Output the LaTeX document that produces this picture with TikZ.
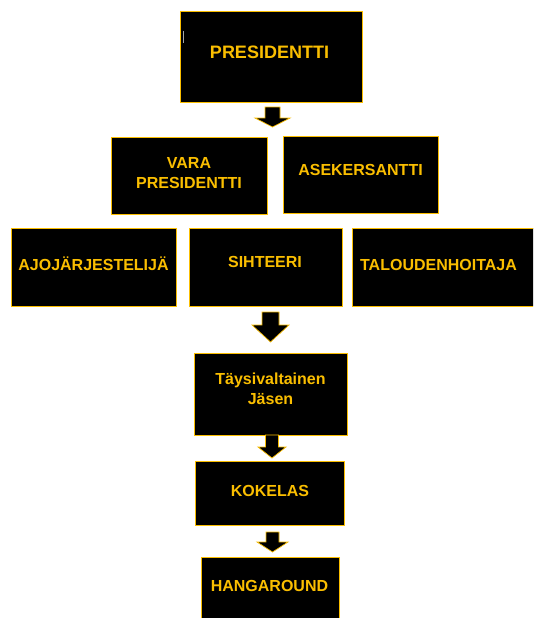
\documentclass[tikz,border=0pt]{standalone}
\usepackage{fontspec}
\setmainfont{Liberation Sans}
\usetikzlibrary{calc}
\definecolor{gold}{RGB}{250,190,0}
\tikzset{
  box/.style={draw=gold, fill=black, line width=0.9pt, inner sep=0pt, outer sep=0pt},
  lbl/.style={text=gold, font=\fontsize{16}{20.5}\selectfont\bfseries, inner sep=0pt, align=center},
  biglbl/.style={lbl, font=\fontsize{18}{22}\selectfont\bfseries},
  barrow/.style={draw=gold, fill=black, line width=0.7pt, line join=miter}
}
\newcommand\blockarrow[5]{%
  \draw[barrow] ($(#1)+(-#3,0)$) -- ($(#1)+(#3,0)$) -- ($(#2)+(#3,-#5)$) -- ($(#2)+(#4,-#5)$)
    -- (#2) -- ($(#2)+(-#4,-#5)$) -- ($(#2)+(-#3,-#5)$) -- cycle;}
\begin{document}
\begin{tikzpicture}[x=1pt,y=-1pt]
\useasboundingbox[fill=white] (0,0) rectangle (533,618);
\begin{scope}
\clip (0,0) rectangle (533,618);
% boxes
\node[box, minimum width=182pt, minimum height=91pt] (pres) at (271,56.5) {};
\node[box, minimum width=156pt, minimum height=77pt] (vara) at (189,175.5) {};
\node[box, minimum width=155pt, minimum height=77pt] (ase) at (360.5,174.5) {};
\node[box, minimum width=165pt, minimum height=78pt] (ajo) at (93.5,267) {};
\node[box, minimum width=153pt, minimum height=78pt] (sih) at (265.5,267) {};
\node[box, minimum width=208pt, minimum height=78pt] (tal) at (456,267) {};
\node[box, minimum width=153pt, minimum height=82pt] (tays) at (270.5,394) {};
\node[box, minimum width=149pt, minimum height=64pt] (kok) at (269.5,493) {};
\node[box, minimum width=138pt, minimum height=83pt] (hang) at (270,598.5) {};
% cursor mark
\draw[gray!70, line width=1pt] (183,31) -- (183,43);
% labels
\node[biglbl, anchor=base] (presT) at (269.5,58.3) {PRESIDENTTI};
\node[lbl, anchor=center] (varaT) at (189,173) {VARA\\PRESIDENTTI};
\node[lbl, anchor=base] (aseT) at (360.5,175.7) {ASEKERSANTTI};
\node[lbl, anchor=base] (ajoT) at (93.5,270.7) {AJOJÄRJESTELIJÄ};
\node[lbl, anchor=base] (sihT) at (265,267.5) {SIHTEERI};
\node[lbl, anchor=base] (talT) at (438.5,270) {TALOUDENHOITAJA};
\node[lbl, anchor=center] (taysT) at (270.5,389) {Täysivaltainen\\Jäsen};
\node[lbl, anchor=base] (kokT) at (270,496) {KOKELAS};
\node[lbl, anchor=base] (hangT) at (269.5,591.7) {HANGAROUND};
% arrows
\coordinate (a1s) at ($(pres.south)+(1.5,5)$);
\coordinate (a1e) at ($(pres.south)+(1.5,25)$);
\coordinate (a2s) at ($(sih.south)+(5,6)$);
\coordinate (a2e) at ($(sih.south)+(5,36)$);
\coordinate (a3s) at ($(tays.south)+(1.5,0)$);
\coordinate (a3e) at ($(tays.south)+(1.5,23)$);
\coordinate (a4s) at ($(kok.south)+(3,7)$);
\coordinate (a4e) at ($(kok.south)+(3,27)$);
\blockarrow{a1s}{a1e}{7.5}{17.5}{9}
\blockarrow{a2s}{a2e}{8.5}{18.5}{17}
\blockarrow{a3s}{a3e}{6.5}{14}{11}
\blockarrow{a4s}{a4e}{6.5}{15.5}{10}
\end{scope}
\end{tikzpicture}
\end{document}
